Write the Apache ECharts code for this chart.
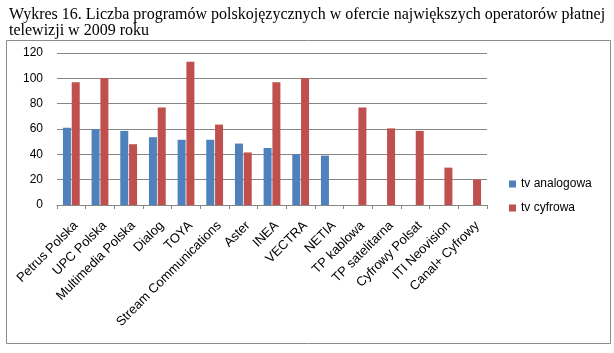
<!DOCTYPE html>
<html><head><meta charset="utf-8">
<script src="https://cdn.jsdelivr.net/npm/echarts@6/dist/echarts.min.js"></script>
<style>html,body{margin:0;padding:0;background:#fff}#c{width:614px;height:353px}</style>
</head><body><div id="c"></div>
<script>
var categories = ['Petrus Polska','UPC Polska','Multimedia Polska','Dialog','TOYA','Stream Communications','Aster','INEA','VECTRA','NETIA','TP kablowa','TP satelitarna','Cyfrowy Polsat','ITI Neovision','Canal+ Cyfrowy'];
var analog = [61, 60, 58.5, 53.5, 51.5, 51.5, 48.5, 45, 40, 39, null, null, null, null, null];
var digital = [97, 100, 48, 77, 113, 63.5, 41.5, 97, 100, null, 77, 60.5, 58.5, 29.5, 20];
var yTicks = [0, 20, 40, 60, 80, 100, 120];
var chart = echarts.init(document.getElementById('c'));
chart.setOption({
  animation: false,
  title: {
    text: 'Wykres 16. Liczba programów polskojęzycznych w ofercie największych operatorów płatnej\ntelewizji w 2009 roku',
    left: 4, top: 2,
    textStyle: {fontFamily: 'Liberation Serif', fontSize: 16, fontWeight: 'normal', color: '#000', lineHeight: 16}
  },
  graphic: [{type: 'rect', shape: {x: 6.5, y: 40.5, width: 604, height: 303}, style: {fill: 'none', stroke: '#8c8c8c', lineWidth: 1}}],
  legend: {
    orient: 'vertical', left: 504, top: 173, itemWidth: 7, itemHeight: 7, itemGap: 12, icon: 'rect',
    textStyle: {fontFamily: 'Liberation Sans', fontSize: 12, color: '#000'},
    data: ['tv analogowa', 'tv cyfrowa']
  },
  grid: {left: 57, top: 53, width: 430, height: 152, containLabel: false},
  xAxis: {
    type: 'category', data: categories,
    axisLine: {lineStyle: {color: '#868686'}},
    axisTick: {show: true, length: 4, lineStyle: {color: '#868686'}},
    axisLabel: {rotate: 45, interval: 0, margin: 14, verticalAlign: 'top', fontFamily: 'Liberation Sans', fontSize: 13, color: '#000'}
  },
  yAxis: {
    type: 'value', min: 0, max: 120, interval: 20,
    axisLine: {show: false}, axisTick: {show: false},
    splitLine: {lineStyle: {color: '#868686'}},
    axisLabel: {fontFamily: 'Liberation Sans', fontSize: 12, color: '#000', margin: 14,
      formatter: function (v) { return yTicks.indexOf(v) >= 0 ? String(v) : ''; }}
  },
  series: [
    {name: 'tv analogowa', type: 'bar', data: analog, barWidth: 8, barGap: '10%', itemStyle: {color: '#4F81BD'}},
    {name: 'tv cyfrowa', type: 'bar', data: digital, barWidth: 8, itemStyle: {color: '#C0504D'}}
  ]
});
</script></body></html>
